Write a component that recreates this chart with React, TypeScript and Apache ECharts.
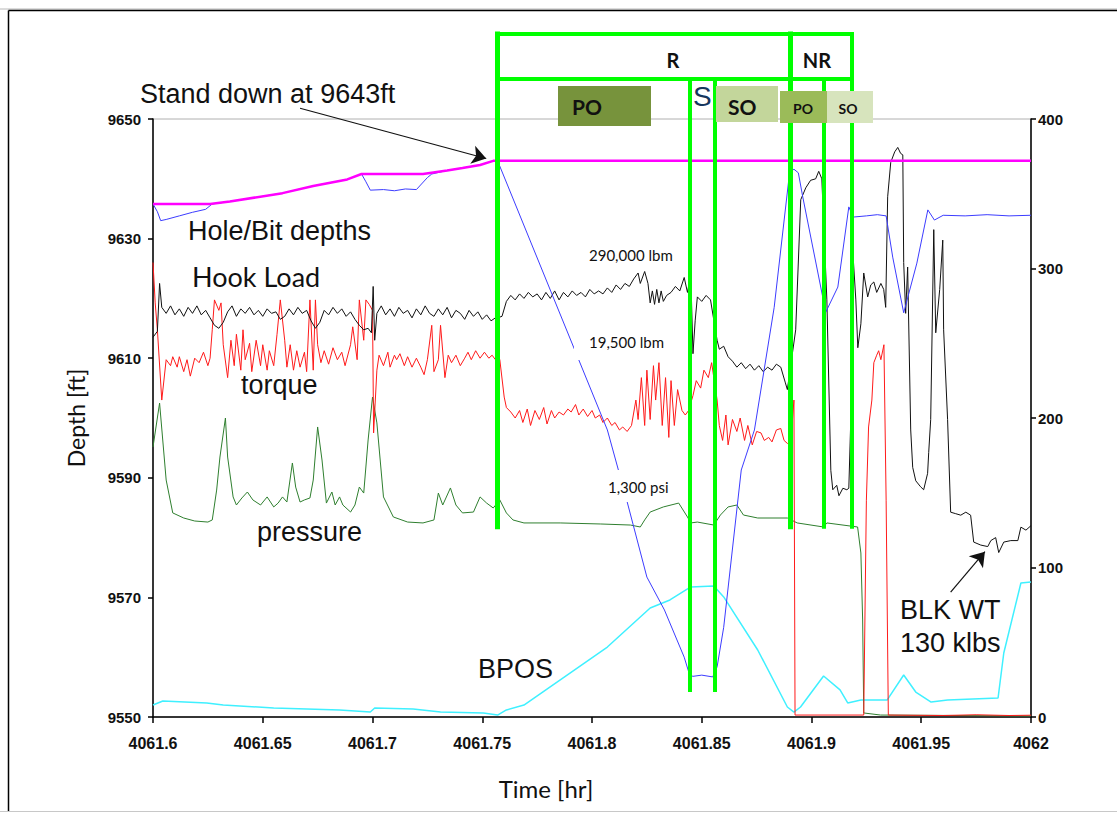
import React, { useEffect, useRef } from "react";
import * as echarts from "echarts";

// ---------- data (time [hr], value) ----------
const holeDepth = [
  [4061.600, 9635.8], [4061.626, 9635.8], [4061.635, 9636.2], [4061.659, 9637.6], [4061.673, 9638.8],
  [4061.6885, 9639.9], [4061.695, 9640.8], [4061.723, 9640.8], [4061.734, 9641.4], [4061.741, 9641.8],
  [4061.749, 9642.3], [4061.755, 9643.0], [4062.0, 9643.0],
];

const bitDepth = [
  [4061.600, 9635.8], [4061.602, 9634.5], [4061.6035, 9633.0], [4061.606, 9633.2], [4061.612, 9633.8],
  [4061.618, 9634.4], [4061.624, 9634.9], [4061.627, 9635.8], [4061.635, 9636.2], [4061.659, 9637.6],
  [4061.673, 9638.8], [4061.6885, 9639.9], [4061.695, 9640.8], [4061.697, 9639.5], [4061.699, 9638.1],
  [4061.705, 9638.2], [4061.710, 9638.0], [4061.715, 9638.3], [4061.720, 9638.2], [4061.725, 9640.2],
  [4061.727, 9640.8], [4061.734, 9641.4], [4061.741, 9641.8], [4061.749, 9642.3], [4061.755, 9643.0],
  [4061.757, 9643.0], [4061.807, 9598.0], [4061.816, 9586.0], [4061.825, 9573.4], [4061.833, 9567.9],
  [4061.842, 9560.0], [4061.8445, 9557.0], [4061.846, 9556.8], [4061.850, 9557.0], [4061.855, 9556.7],
  [4061.857, 9558.4], [4061.860, 9565.0], [4061.868, 9591.3], [4061.874, 9598.0], [4061.883, 9618.5],
  [4061.890, 9641.0], [4061.892, 9641.6], [4061.894, 9641.0], [4061.896, 9637.0], [4061.906, 9618.6],
  [4061.9065, 9617.7], [4061.912, 9621.9], [4061.917, 9635.3], [4061.919, 9633.6], [4061.925, 9633.8],
  [4061.930, 9634.0], [4061.934, 9633.8], [4061.937, 9626.9], [4061.942, 9617.6], [4061.948, 9625.9],
  [4061.953, 9634.8], [4061.956, 9633.1], [4061.960, 9633.9], [4061.970, 9633.8], [4061.980, 9634.0],
  [4061.990, 9633.8], [4062.0, 9633.9],
];

const hookLoad = [
  [4061.600, 254], [4061.602, 258], [4061.603, 290], [4061.604, 274], [4061.606, 270], [4061.608, 275],
  [4061.610, 269], [4061.612, 273], [4061.614, 268], [4061.616, 274], [4061.618, 270], [4061.620, 275],
  [4061.622, 269], [4061.624, 272], [4061.626, 267], [4061.628, 262], [4061.630, 260], [4061.632, 264],
  [4061.634, 271], [4061.636, 275], [4061.638, 268], [4061.640, 273], [4061.642, 270], [4061.644, 274],
  [4061.646, 269], [4061.648, 272], [4061.650, 268], [4061.652, 273], [4061.654, 270], [4061.656, 271],
  [4061.658, 266], [4061.660, 268], [4061.662, 273], [4061.664, 269], [4061.666, 274], [4061.668, 270],
  [4061.670, 272], [4061.672, 265], [4061.674, 260], [4061.676, 264], [4061.678, 272], [4061.680, 269],
  [4061.682, 274], [4061.684, 270], [4061.686, 273], [4061.688, 268], [4061.690, 271], [4061.692, 266],
  [4061.694, 262], [4061.696, 259], [4061.698, 260], [4061.6995, 257], [4061.7003, 288], [4061.701, 252],
  [4061.702, 270], [4061.704, 275], [4061.706, 269], [4061.708, 273], [4061.710, 268], [4061.712, 274],
  [4061.714, 270], [4061.716, 272], [4061.718, 267], [4061.720, 273], [4061.722, 269], [4061.724, 275],
  [4061.726, 270], [4061.728, 268], [4061.730, 273], [4061.732, 269], [4061.734, 274], [4061.736, 267],
  [4061.738, 272], [4061.740, 270], [4061.742, 266], [4061.744, 272], [4061.746, 268], [4061.748, 271],
  [4061.750, 266], [4061.752, 269], [4061.754, 265], [4061.756, 267],
  [4061.757, 267], [4061.759, 268], [4061.761, 278], [4061.763, 282], [4061.765, 279], [4061.767, 283],
  [4061.769, 280], [4061.771, 284], [4061.773, 281], [4061.775, 283], [4061.777, 279], [4061.779, 284],
  [4061.781, 280], [4061.783, 285], [4061.785, 279], [4061.787, 284], [4061.789, 281], [4061.791, 285],
  [4061.793, 282], [4061.795, 284], [4061.797, 281], [4061.799, 286], [4061.801, 283], [4061.803, 285],
  [4061.805, 283], [4061.807, 287], [4061.809, 284], [4061.811, 289], [4061.813, 286], [4061.815, 290],
  [4061.817, 288], [4061.819, 293], [4061.821, 297], [4061.822, 290], [4061.824, 298], [4061.8255, 290],
  [4061.8265, 277], [4061.8275, 285], [4061.8285, 276], [4061.8295, 286], [4061.8305, 277], [4061.8315, 285],
  [4061.8325, 278], [4061.834, 282], [4061.836, 284], [4061.838, 288], [4061.840, 285], [4061.842, 294],
  [4061.8435, 284], [4061.845, 296], [4061.846, 243], [4061.847, 265], [4061.848, 281], [4061.850, 278],
  [4061.852, 282], [4061.854, 279], [4061.857, 252], [4061.858, 246], [4061.860, 248], [4061.862, 241],
  [4061.864, 238], [4061.866, 234], [4061.868, 237], [4061.870, 233], [4061.872, 236], [4061.874, 232],
  [4061.876, 235], [4061.878, 231], [4061.880, 234], [4061.882, 232], [4061.884, 236], [4061.886, 234],
  [4061.888, 224], [4061.889, 219],
  [4061.8928, 259], [4061.8951, 346], [4061.8974, 354], [4061.8996, 359], [4061.9019, 360], [4061.9033, 365],
  [4061.9047, 360], [4061.907, 279], [4061.9088, 165], [4061.9097, 152], [4061.9115, 155], [4061.9125, 148],
  [4061.9143, 153], [4061.9161, 152], [4061.917, 153], [4061.9179, 199], [4061.9188, 312], [4061.9202, 279],
  [4061.9211, 247], [4061.9225, 263], [4061.9238, 297], [4061.9256, 281], [4061.927, 289], [4061.9284, 291],
  [4061.9297, 284], [4061.9316, 290], [4061.9329, 286], [4061.9338, 274], [4061.9347, 348], [4061.9361, 371],
  [4061.9379, 378], [4061.9393, 381], [4061.9406, 377], [4061.9416, 376], [4061.942, 304], [4061.9429, 270],
  [4061.9438, 301], [4061.9452, 192], [4061.9461, 167], [4061.9475, 158], [4061.9497, 154], [4061.9511, 152],
  [4061.9529, 163], [4061.9534, 177], [4061.9543, 199], [4061.9557, 326], [4061.9566, 257], [4061.9584, 286],
  [4061.9598, 319], [4061.9602, 259], [4061.962, 199], [4061.9634, 137], [4061.9657, 136], [4061.968, 135],
  [4061.9703, 137], [4061.9725, 135], [4061.9739, 117], [4061.9771, 115], [4061.9803, 114], [4061.9817, 118],
  [4061.9839, 120], [4061.9853, 110], [4061.9876, 117], [4061.9908, 118], [4061.994, 118], [4061.9954, 127],
  [4061.9977, 125], [4062.0, 128],
];

const torque = [
  [4061.600, 304], [4061.601, 277], [4061.602, 259], [4061.604, 212], [4061.606, 239], [4061.608, 235],
  [4061.609, 241], [4061.611, 234], [4061.612, 241], [4061.614, 231], [4061.6155, 239], [4061.617, 228],
  [4061.619, 240], [4061.621, 237], [4061.623, 244], [4061.625, 235], [4061.626, 240], [4061.627, 259],
  [4061.628, 279], [4061.630, 272], [4061.631, 277], [4061.632, 249], [4061.634, 227], [4061.6355, 252],
  [4061.637, 235], [4061.638, 256], [4061.640, 232], [4061.641, 259], [4061.642, 239], [4061.644, 250],
  [4061.645, 231], [4061.647, 252], [4061.649, 235], [4061.650, 249], [4061.652, 232], [4061.653, 245],
  [4061.655, 235], [4061.6565, 256], [4061.658, 279], [4061.660, 252], [4061.661, 234], [4061.6625, 249],
  [4061.664, 232], [4061.6655, 245], [4061.667, 234], [4061.669, 244], [4061.670, 231], [4061.6715, 279],
  [4061.673, 232], [4061.674, 279], [4061.675, 249], [4061.6765, 237], [4061.678, 245], [4061.680, 236],
  [4061.682, 247], [4061.684, 239], [4061.686, 244], [4061.6875, 235], [4061.690, 249], [4061.691, 261],
  [4061.693, 239], [4061.694, 279], [4061.696, 252], [4061.697, 279], [4061.6985, 276], [4061.700, 272],
  [4061.7005, 190], [4061.702, 232], [4061.703, 242], [4061.705, 235], [4061.707, 244], [4061.708, 234],
  [4061.710, 242], [4061.711, 239], [4061.7125, 243], [4061.7145, 235], [4061.716, 241], [4061.718, 234],
  [4061.720, 240], [4061.722, 234], [4061.7235, 229], [4061.725, 239], [4061.727, 262], [4061.728, 231],
  [4061.730, 239], [4061.731, 262], [4061.733, 227], [4061.7345, 242], [4061.736, 237], [4061.738, 242],
  [4061.740, 235], [4061.742, 240], [4061.7435, 244], [4061.745, 239], [4061.747, 245], [4061.749, 240],
  [4061.751, 244], [4061.753, 240], [4061.7545, 242], [4061.756, 239],
  [4061.757, 241], [4061.758, 239], [4061.760, 214], [4061.761, 207], [4061.763, 204], [4061.765, 200],
  [4061.767, 205], [4061.7685, 197], [4061.7705, 206], [4061.772, 195], [4061.774, 205], [4061.776, 199],
  [4061.778, 207], [4061.7795, 196], [4061.7815, 205], [4061.783, 200], [4061.785, 204], [4061.787, 202],
  [4061.789, 206], [4061.7905, 204], [4061.7925, 209], [4061.794, 202], [4061.796, 206], [4061.798, 201],
  [4061.800, 205], [4061.8015, 200], [4061.8035, 202], [4061.805, 197], [4061.807, 200], [4061.809, 195],
  [4061.8105, 197], [4061.8125, 192], [4061.814, 194], [4061.816, 191], [4061.818, 195], [4061.820, 212],
  [4061.821, 199], [4061.8225, 227], [4061.824, 195], [4061.825, 232], [4061.8265, 199], [4061.828, 235],
  [4061.829, 212], [4061.8305, 237], [4061.832, 195], [4061.8335, 227], [4061.835, 187], [4061.836, 225],
  [4061.8375, 195], [4061.839, 219], [4061.841, 205], [4061.8425, 202], [4061.844, 205], [4061.846, 215],
  [4061.8475, 225], [4061.8495, 220], [4061.851, 232], [4061.853, 227], [4061.8545, 237], [4061.857, 212],
  [4061.858, 195], [4061.8595, 185], [4061.861, 202], [4061.862, 182], [4061.864, 199], [4061.866, 191],
  [4061.8675, 200], [4061.8695, 185], [4061.871, 195], [4061.873, 182], [4061.875, 191], [4061.877, 190],
  [4061.8785, 185], [4061.8805, 187], [4061.882, 184], [4061.884, 192], [4061.886, 193], [4061.8875, 185],
  [4061.889, 183], [4061.8905, 183], [4061.892, 212], [4061.8925, 1.3], [4061.9238, 1.3], [4061.925, 145],
  [4061.926, 194], [4061.9275, 212], [4061.9284, 237], [4061.9297, 242], [4061.9306, 245], [4061.9316, 239],
  [4061.933, 249], [4061.934, 145], [4061.935, 1.3], [4061.960, 1.0], [4061.975, 1.5], [4061.990, 1.0],
  [4062.0, 1.2],
];

const pressure = [
  [4061.600, 180.6], [4061.603, 210], [4061.606, 158.5], [4061.609, 136.5], [4061.614, 133.1], [4061.619, 131.1],
  [4061.625, 130.4], [4061.627, 131.8], [4061.629, 151.8], [4061.6305, 173.9], [4061.633, 200], [4061.634, 173.9],
  [4061.6365, 147.2], [4061.638, 141.8], [4061.6405, 146.5], [4061.643, 150.5], [4061.6455, 145.2], [4061.649, 141.8],
  [4061.652, 147.2], [4061.655, 140.5], [4061.657, 143.1], [4061.659, 147.2], [4061.661, 143.8], [4061.6635, 169.9],
  [4061.665, 153.8], [4061.667, 143.8], [4061.669, 145.2], [4061.6715, 146.5], [4061.673, 158.5], [4061.675, 194],
  [4061.677, 171.9], [4061.679, 143.1], [4061.6815, 150.5], [4061.683, 141.8], [4061.685, 147.2], [4061.6865, 141.8],
  [4061.690, 137.1], [4061.692, 141.8], [4061.694, 153.8], [4061.696, 149.8], [4061.698, 185.3], [4061.700, 214],
  [4061.702, 196.7], [4061.705, 147.2], [4061.7095, 133.8], [4061.716, 130.4], [4061.723, 129.8], [4061.728, 131.8],
  [4061.730, 149.8], [4061.732, 141.8], [4061.7355, 153.2], [4061.738, 141.8], [4061.741, 136.5], [4061.746, 137.1],
  [4061.749, 147.2], [4061.752, 143.1], [4061.755, 139.8], [4061.758, 145.2], [4061.761, 136.5], [4061.764, 131.8],
  [4061.769, 129.8], [4061.7855, 129.8], [4061.804, 129.1], [4061.8175, 128.4], [4061.822, 127.1], [4061.824, 131.8],
  [4061.8265, 137.1], [4061.8325, 140.5], [4061.8395, 143.1], [4061.8435, 133.8], [4061.845, 129.8], [4061.848, 130.4],
  [4061.8555, 128.4], [4061.8585, 135.1], [4061.862, 140.5], [4061.866, 141.8], [4061.869, 135.1], [4061.8755, 133.1],
  [4061.889, 133.1], [4061.8935, 129.8], [4061.9055, 127.1], [4061.907, 129.8], [4061.921, 127.1], [4061.9225, 109.7],
  [4061.9233, 64.9], [4061.9238, 2.7], [4061.9315, 1.3], [4062.0, 0.7],
];

const bpos = [
  [4061.600, 8.0], [4061.6045, 10.7], [4061.6245, 9.4], [4061.632, 8.0], [4061.655, 6.0], [4061.685, 4.7],
  [4061.699, 3.3], [4061.701, 6.0], [4061.7185, 5.4], [4061.731, 3.3], [4061.7505, 2.7], [4061.757, 1.3],
  [4061.761, 4.7], [4061.769, 8.0], [4061.807, 46.8], [4061.8265, 72.9], [4061.8355, 78.3], [4061.845, 87.0],
  [4061.8555, 87.6], [4061.860, 80.3], [4061.8755, 44.8], [4061.889, 6.7], [4061.892, 3.3], [4061.895, 6.7],
  [4061.9055, 27.4], [4061.913, 18.1], [4061.9165, 9.4], [4061.9225, 11.4], [4061.9345, 11.4], [4061.942, 28.1],
  [4061.9475, 16.7], [4061.9545, 10.0], [4061.962, 11.4], [4061.985, 12.7], [4061.9876, 42.8], [4061.9954, 89.6],
  [4062.0, 90.3],
];

// phase boundaries (time) and the depth levels of the annotation frame
const phaseTimes = [4061.757, 4061.8445, 4061.856, 4061.8905, 4061.9055, 4061.9183];
const frameTop = 9664.2;
const frameMid = 9656.7;
const lineBottomShort = 9581.8;
const lineBottomLong = 9554.5;

// arrows: [start, end]
const standDownArrow = [[4061.667, 9651.8], [4061.7518, 9643.4]];
const blkWtArrow = [[4061.9634, 83.6], [4061.979, 110.6]];

const leftTicks = { min: 9550, max: 9650, interval: 20 };
const rightTicks = { min: 0, max: 400, interval: 100 };
const timeTicks = { min: 4061.6, max: 4062, interval: 0.05 };

const ARIAL = "'Liberation Sans', Arial, sans-serif";
const CAL = "Lato, 'Open Sans', sans-serif";

export default function App() {
  const ref = useRef<HTMLDivElement>(null);

  useEffect(() => {
    if (!ref.current) return;
    const chart = echarts.init(ref.current, undefined, { renderer: "svg" });

    const green = "#00ff00";
    const pt = phaseTimes;
    const phaseSegments = [
      { coords: [[pt[0], frameTop], [pt[5], frameTop]], w: 4 },
      { coords: [[pt[0], frameMid], [pt[5], frameMid]], w: 4 },
      { coords: [[pt[0], frameTop], [pt[0], lineBottomShort]], w: 5 },
      { coords: [[pt[1], frameMid], [pt[1], lineBottomLong]], w: 4 },
      { coords: [[pt[2], frameMid], [pt[2], lineBottomLong]], w: 4 },
      { coords: [[pt[3], frameTop], [pt[3], lineBottomShort]], w: 5 },
      { coords: [[pt[4], frameMid], [pt[4], lineBottomShort]], w: 4 },
      { coords: [[pt[5], frameTop], [pt[5], lineBottomShort]], w: 4 },
    ];

    const txt = (text: string, x: number, y: number, opts: any = {}) => ({
      type: "text",
      z: opts.z ?? 20,
      rotation: opts.rotation ?? 0,
      x: opts.rotation ? x : 0,
      y: opts.rotation ? y : 0,
      style: {
        text,
        x: opts.rotation ? 0 : x,
        y: opts.rotation ? 0 : y,
        fill: opts.fill ?? "#111",
        font: opts.font ?? `27px ${ARIAL}`,
        textAlign: opts.align ?? "left",
        textVerticalAlign: "middle",
      },
    });
    const box = (x: number, y: number, w: number, h: number, fill: string, z = 15) => ({
      type: "rect",
      z,
      shape: { x, y, width: w, height: h },
      style: { fill },
    });

    const option: any = {
      animation: false,
      backgroundColor: "#fff",
      grid: {
        left: 153,
        right: 86,
        top: 119,
        bottom: 96,
        show: true,
        borderColor: "#b0b0b0",
        borderWidth: 1,
        backgroundColor: "transparent",
        outerBoundsMode: "none",
        containLabel: false,
      },
      xAxis: {
        type: "value",
        min: timeTicks.min,
        max: timeTicks.max,
        interval: timeTicks.interval,
        axisLine: { show: true, onZero: false, lineStyle: { color: "#000", width: 1.5 } },
        axisTick: { show: true, length: 6, lineStyle: { color: "#000", width: 1.5 } },
        axisLabel: {
          margin: 18,
          fontFamily: ARIAL,
          fontWeight: "bold",
          fontSize: 16,
          color: "#111",
          showMinLabel: true,
          showMaxLabel: true,
          formatter: (v: number) => String(Math.round(v * 100) / 100),
        },
        splitLine: { show: false },
      },
      yAxis: [
        {
          type: "value",
          position: "left",
          min: leftTicks.min,
          max: leftTicks.max,
          interval: leftTicks.interval,
          axisLine: { show: true, onZero: false, lineStyle: { color: "#000", width: 1.5 } },
          axisTick: { show: true, length: 5, lineStyle: { color: "#000", width: 1.5 } },
          axisLabel: {
            margin: 12, fontFamily: ARIAL, fontWeight: "bold", fontSize: 15, color: "#111",
            formatter: (v: number) => String(Math.round(v)),
          },
          splitLine: { show: false },
        },
        {
          type: "value",
          position: "right",
          min: rightTicks.min,
          max: rightTicks.max,
          interval: rightTicks.interval,
          axisLine: { show: true, onZero: false, lineStyle: { color: "#000", width: 1.5 } },
          axisTick: { show: true, length: 5, lineStyle: { color: "#000", width: 1.5 } },
          axisLabel: {
            margin: 7, fontFamily: ARIAL, fontWeight: "bold", fontSize: 15, color: "#111",
            formatter: (v: number) => String(Math.round(v)),
          },
          splitLine: { show: false },
        },
      ],
      series: [
        {
          name: "BPOS", type: "line", yAxisIndex: 1, data: bpos, showSymbol: false, z: 2,
          lineStyle: { color: "#3ff0ff", width: 1.5 },
        },
        {
          name: "pressure", type: "line", yAxisIndex: 1, data: pressure, showSymbol: false, z: 2,
          lineStyle: { color: "#2f7f2f", width: 1 },
        },
        {
          name: "torque", type: "line", yAxisIndex: 1, data: torque, showSymbol: false, z: 2,
          lineStyle: { color: "#ff1a1a", width: 1 },
        },
        {
          name: "hook load", type: "line", yAxisIndex: 1, data: hookLoad, showSymbol: false, z: 3,
          lineStyle: { color: "#111", width: 1 },
        },
        {
          name: "bit depth", type: "line", yAxisIndex: 0, data: bitDepth, showSymbol: false, z: 3,
          lineStyle: { color: "#3c3cff", width: 1 },
        },
        {
          name: "hole depth", type: "line", yAxisIndex: 0, data: holeDepth, showSymbol: false, z: 4,
          lineStyle: { color: "#ff00ff", width: 2.5 },
        },
        {
          name: "phases", type: "lines", coordinateSystem: "cartesian2d", xAxisIndex: 0, yAxisIndex: 0,
          clip: false, silent: true, z: 6,
          lineStyle: { color: green, width: 4, opacity: 1, cap: "square" },
          data: phaseSegments.map((s) => ({ coords: s.coords, lineStyle: { color: green, width: s.w, opacity: 1 } })),
        },
        {
          name: "arrow depth", type: "lines", coordinateSystem: "cartesian2d", xAxisIndex: 0, yAxisIndex: 0,
          clip: false, silent: true, z: 7, symbol: ["none", "arrow"], symbolSize: [11, 14],
          lineStyle: { color: "#111", width: 1.2, opacity: 1 },
          data: [{ coords: standDownArrow }],
        },
        {
          name: "arrow blk", type: "lines", coordinateSystem: "cartesian2d", xAxisIndex: 0, yAxisIndex: 1,
          clip: false, silent: true, z: 7, symbol: ["none", "arrow"], symbolSize: [11, 14],
          lineStyle: { color: "#111", width: 1.2, opacity: 1 },
          data: [{ coords: blkWtArrow }],
        },
      ],
      graphic: [
        // outer frame
        { type: "line", z: 1, shape: { x1: 0, y1: 9, x2: 1117, y2: 9 }, style: { stroke: "#b8b8b8", lineWidth: 1 } },
        { type: "line", z: 1, shape: { x1: 8.5, y1: 10.5, x2: 1117, y2: 10.5 }, style: { stroke: "#000", lineWidth: 1.5 } },
        { type: "line", z: 1, shape: { x1: 8.5, y1: 10.5, x2: 8.5, y2: 812 }, style: { stroke: "#000", lineWidth: 1.5 } },
        { type: "line", z: 1, shape: { x1: 0, y1: 811.5, x2: 1117, y2: 811.5 }, style: { stroke: "#c8c8c8", lineWidth: 1 } },

        // axis titles
        txt("Time [hr]", 546, 788, { font: `24px ${CAL}`, align: "center" }),
        txt("Depth [ft]", 76, 418, { font: `23px ${CAL}`, align: "center", rotation: Math.PI / 2 }),

        // phase headers
        txt("R", 673, 60, { font: `bold 20px ${CAL}`, align: "center" }),
        txt("NR", 817, 60, { font: `bold 20px ${CAL}`, align: "center" }),
        txt("S", 693, 96, { font: `28px ${ARIAL}`, fill: "#17375e", z: 12 }),
        box(558, 86, 93, 40, "#77933c"),
        txt("PO", 572, 106, { font: `bold 21px ${CAL}`, z: 16 }),
        box(716, 86, 62, 36, "#c3d69b"),
        txt("SO", 728, 106.5, { font: `bold 21px ${CAL}`, z: 16 }),
        box(780, 91, 47, 32, "#9bbb59"),
        txt("PO", 803, 108, { font: `bold 14px ${CAL}`, align: "center", z: 16 }),
        box(827, 91, 46, 32, "#d7e4bd"),
        txt("SO", 848, 108, { font: `bold 14px ${CAL}`, align: "center", z: 16 }),

        // value call-outs with white background
        box(578, 240, 110, 27, "#fff", 12),
        txt("290,000 lbm", 589, 255, { font: `15px ${CAL}`, z: 13 }),
        box(574, 335, 92, 25, "#fff", 12),
        txt("19,500 lbm", 589, 342, { font: `15px ${CAL}`, z: 13 }),
        box(602, 470, 68, 32, "#fff", 12),
        txt("1,300 psi", 608, 487, { font: `15px ${CAL}`, z: 13 }),

        // curve names
        txt("Stand down at 9643ft", 140, 94),
        txt("Hole/Bit depths", 188, 231),
        txt("Hook Load", 192, 276, { font: `27px ${CAL}` }),
        txt("torque", 241, 385),
        txt("pressure", 257, 532),
        txt("BPOS", 478, 669),
        txt("BLK WT", 900, 610),
        txt("130 klbs", 900, 642.5),
      ],
    };

    chart.setOption(option);
    return () => chart.dispose();
  }, []);

  return (
    <div
      ref={ref}
      style={{ position: "fixed", left: 0, top: 0, width: 1117, height: 813, background: "#fff" }}
    />
  );
}
